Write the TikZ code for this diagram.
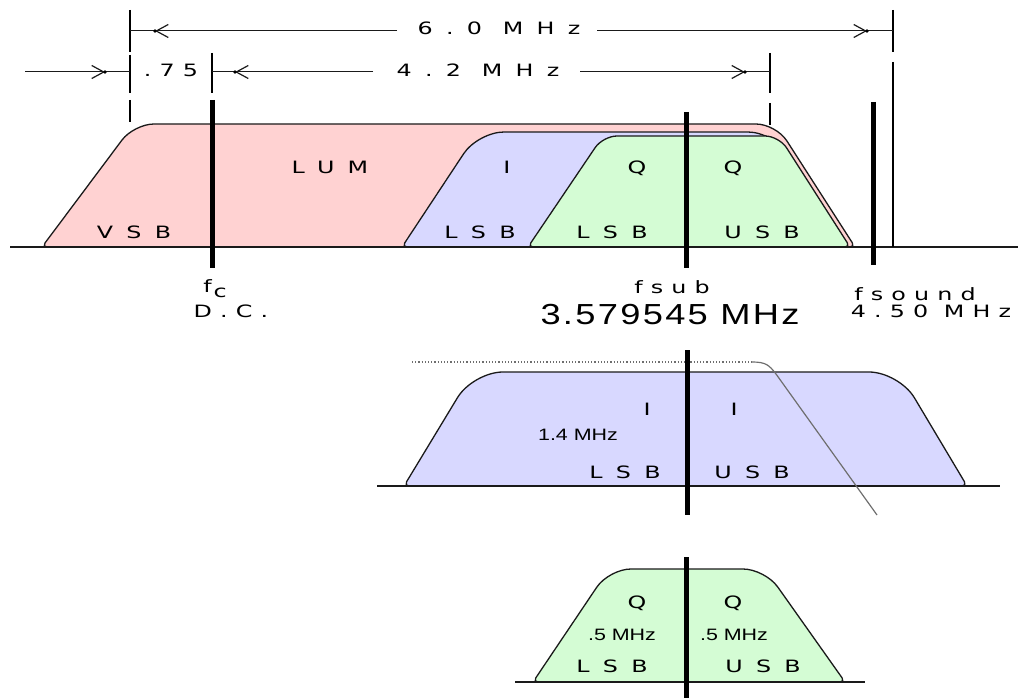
\documentclass[tikz,border=0pt]{standalone}
\usepackage{fontspec}
\usepackage{xcolor}
\definecolor{cLum}{HTML}{FFD2D2}
\definecolor{cIband}{HTML}{D8D8FF}
\definecolor{cQband}{HTML}{D4FCD4}
\definecolor{cLine}{HTML}{1A1A1A}
\definecolor{cFilter}{HTML}{6E6E6E}
\newfontfamily\pixfont[FakeStretch=1.4,LetterSpace=78]{DejaVu Sans}
\newfontfamily\pixfontb[FakeStretch=1.4,LetterSpace=48]{DejaVu Sans}
\newfontfamily\numfont[FakeStretch=1.3]{Liberation Sans}
\newfontfamily\bigfont[FakeStretch=1.25,LetterSpace=8]{Liberation Sans}
\usetikzlibrary{positioning,arrows.meta,calc}
\tikzset{
  band/.style={draw=cLine,line width=1.3pt,line join=round},
  band-lum/.style={band,fill=cLum},
  band-i/.style={band,fill=cIband},
  band-q/.style={band,fill=cQband},
  base-line/.style={draw=cLine,line width=1.4pt},
  carrier/.style={draw=black,line width=5pt},
  tick-line/.style={draw=black,line width=2pt},
  dim-line/.style={draw=cLine,line width=1pt},
  dim-arrow/.style={dim-line,-{Straight Barb[length=12pt,width=13pt,line width=1.2pt]}},
  filter-flat/.style={draw=cFilter,line width=1.2pt,dotted},
  filter-slope/.style={draw=cFilter,line width=1.2pt},
  lbl/.style={font=\fontsize{17}{20}\pixfont,anchor=base,inner sep=0pt},
  lbl-low/.style={font=\fontsize{17}{20}\pixfontb,anchor=base,inner sep=0pt},
  lbl-num/.style={font=\fontsize{16.5}{18}\numfont,anchor=base,inner sep=0pt},
  lbl-big/.style={font=\fontsize{29}{32}\bigfont,anchor=base,inner sep=0pt},
}

\begin{document}
\begin{tikzpicture}[x=1pt,y=-1pt]
  \useasboundingbox (0,0) rectangle (1027,698);

  % --- composite spectrum ---
  \draw[band-lum] (400,247) [rounded corners=5] -- (42,247)
    [rounded corners=20] -- (134,124) -- (776,124) [rounded corners=5] -- (855,247) -- cycle;
  \draw[band-i] (600,247) [rounded corners=5] -- (402,247)
    [rounded corners=26] -- (478,132) -- (774,132) [rounded corners=5] -- (846,247) -- cycle;
  \draw[band-q] (690,247) [rounded corners=5] -- (528,247)
    [rounded corners=14] -- (603,136) -- (779,136) [rounded corners=5] -- (850,247) -- cycle;
  \draw[base-line] (10,247) -- (1018,247);

  \node[lbl] (vsb) at (134,238) {VSB};
  \node[lbl] (lum) at (330,173) {LUM};
  \node[lbl] (i-top) at (507,173) {I};
  \node[lbl] (i-lsb) at (480,238) {LSB};
  \node[lbl] (q-top-l) at (637,173) {Q};
  \node[lbl] (q-lsb) at (612,238) {LSB};
  \node[lbl] (q-top-r) at (733,173) {Q};
  \node[lbl] (q-usb) at (762,238) {USB};

  % carriers
  \draw[carrier] (212,100) -- (212,268);
  \draw[carrier] (686,112) -- (686,268);
  \draw[carrier] (873,102) -- (873,265);
  \draw[tick-line] (893,62) -- (893,247);

  \node[lbl-low] (fc) at (215,292) {f\kern2pt\raisebox{-5pt}{c}};
  \node[lbl-low] (dc) at (231,317) {D.C.};
  \node[lbl-low] (fsub) at (672,293) {fsub};
  \node[lbl-big] (fsub-val) at (670,324) {3.579545 MHz};
  \node[lbl-low] (fsound) at (915,300) {fsound};
  \node[lbl-low] (fsound-val) at (931,317) {4.50 MHz};

  % --- dimension lines ---
  \coordinate (t6L) at (130,31);
  \coordinate (t6R) at (893,31);
  \coordinate (a6L) at (155,31);
  \coordinate (a6R) at (867,31);
  \coordinate (t4L) at (212,72);
  \coordinate (t4R) at (770,72);
  \coordinate (a4L) at (235,72);
  \coordinate (a4R) at (745,72);
  \coordinate (tvL) at (130,72);
  \coordinate (avL) at (105,72);
  \coordinate (fvL) at (25,72);

  \draw[tick-line] (130,10) -- (130,52);
  \draw[tick-line] (893,10) -- (893,52);
  \draw[tick-line] (130,55) -- (130,93);
  \draw[tick-line] (212,53) -- (212,93);
  \draw[tick-line] (770,53) -- (770,93);
  \draw[tick-line] (130,100) -- (130,122);
  \draw[tick-line] (770,103) -- (770,125);

  \node[lbl] (six) at (499,35) {6.0 MHz};
  \node[lbl] (four) at (478,77) {4.2 MHz};
  \node[lbl-low] (vsbw) at (171,77) {.75};

  \draw[dim-arrow] (397,31) -- (a6L);
  \draw[dim-line] (a6L) -- (t6L);
  \draw[dim-arrow] (597,31) -- (a6R);
  \draw[dim-line] (a6R) -- (t6R);
  \draw[dim-arrow] (373,72) -- (a4L);
  \draw[dim-line] (a4L) -- (t4L);
  \draw[dim-arrow] (580,72) -- (a4R);
  \draw[dim-line] (a4R) -- (t4R);
  \draw[dim-arrow] (fvL) -- (avL);
  \draw[dim-line] (avL) -- (tvL);
  \foreach \p in {a6L,a6R,a4L,a4R,avL}
    \fill (\p) circle (1.8);

  % --- I channel ---
  \draw[band-i] (700,486) [rounded corners=5] -- (404,486)
    [rounded corners=30] -- (473,372) -- (899,372) [rounded corners=5] -- (967,486) -- cycle;
  \draw[base-line] (377,486) -- (1000,486);
  \draw[filter-flat] (412,362) -- (752,362);
  \draw[filter-slope] (752,362) .. controls (766,362) and (769,365) .. (776,374) -- (877,515);
  \draw[carrier] (687,350) -- (687,515);

  \node[lbl] (i-mid-l) at (647,415) {I};
  \node[lbl] (i-mid-r) at (734,415) {I};
  \node[lbl-num] (i-bw) at (578,440) {1.4 MHz};
  \node[lbl] (i-mid-lsb) at (625,478) {LSB};
  \node[lbl] (i-mid-usb) at (752,478) {USB};

  % --- Q channel ---
  \draw[band-q] (690,682) [rounded corners=5] -- (533,682)
    [rounded corners=22] -- (609,569) -- (765,569) [rounded corners=5] -- (845,682) -- cycle;
  \draw[base-line] (515,682) -- (865,682);
  \draw[carrier] (686,557) -- (686,698);

  \node[lbl] (q-bot-l) at (637,608) {Q};
  \node[lbl] (q-bot-r) at (733,608) {Q};
  \node[lbl-num] (q-bw-l) at (622,640) {.5 MHz};
  \node[lbl-num] (q-bw-r) at (734,640) {.5 MHz};
  \node[lbl] (q-bot-lsb) at (612,672) {LSB};
  \node[lbl] (q-bot-usb) at (763,672) {USB};
\end{tikzpicture}
\end{document}
